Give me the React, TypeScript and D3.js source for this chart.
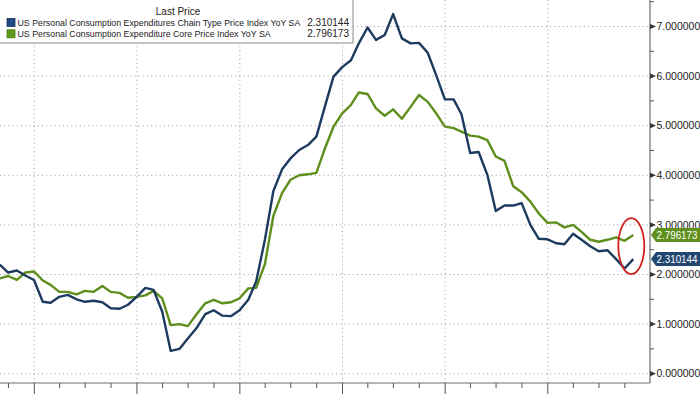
import React from "react";
import * as d3 from "d3";

// Monthly YoY %, Aug 2018 .. Oct 2024 (month-end)
const startYear = 2018;
const startMonth = 7; // August (0-based)

const headline: number[] = [
  2.20, 2.04, 2.08, 1.98, 1.89,
  1.45, 1.43, 1.55, 1.59, 1.50, 1.45, 1.47, 1.44, 1.32, 1.31, 1.39, 1.55,
  1.73, 1.69, 1.25, 0.46, 0.50, 0.71, 0.92, 1.20, 1.28, 1.17, 1.16, 1.28,
  1.49, 1.86, 2.70, 3.68, 4.12, 4.34, 4.51, 4.61, 4.78, 5.40, 5.99, 6.18,
  6.32, 6.66, 6.98, 6.73, 6.83, 7.25, 6.76, 6.66, 6.67, 6.47, 6.02, 5.53,
  5.53, 5.23, 4.45, 4.47, 4.01, 3.28, 3.39, 3.39, 3.44, 3.00, 2.72, 2.71,
  2.63, 2.61, 2.82, 2.70, 2.57, 2.47, 2.49, 2.31, 2.12, 2.310144,
];

const core: number[] = [
  1.92, 1.97, 1.89, 2.04, 2.06,
  1.88, 1.79, 1.65, 1.65, 1.60, 1.67, 1.65, 1.77, 1.65, 1.63, 1.53, 1.55,
  1.58, 1.67, 1.52, 0.98, 1.00, 0.96, 1.20, 1.42, 1.49, 1.42, 1.44, 1.52,
  1.72, 1.73, 2.21, 3.18, 3.64, 3.91, 4.00, 4.02, 4.05, 4.55, 4.98, 5.25,
  5.42, 5.67, 5.64, 5.35, 5.20, 5.33, 5.14, 5.38, 5.62, 5.48, 5.25, 4.98,
  4.95, 4.88, 4.80, 4.78, 4.71, 4.38, 4.29, 3.78, 3.66, 3.47, 3.23, 3.04,
  3.05, 2.95, 3.00, 2.86, 2.70, 2.66, 2.70, 2.75, 2.68, 2.796173,
];

const seriesNames = [
  "US Personal Consumption Expenditures Chain Type Price Index YoY SA",
  "US Personal Consumption Expenditure Core Price Index YoY SA",
];
const lastLabels = ["2.310144", "2.796173"];
const yTicks = [0, 1, 2, 3, 4, 5, 6, 7];
const yMinorTicks = [0.5, 1.5, 2.5, 3.5, 4.5, 5.5, 6.5, 7.5];
const yearTicks = [2019, 2020, 2021, 2022, 2023, 2024];

const BLUE = "#1d3a5f";
const GREEN = "#5e8e1c";
const BLUE_TAG = "#21466f";
const GREEN_TAG = "#5f901e";

const W = 700;
const H = 394;
const plotRight = 650;
const plotBottom = 383;

export default function App() {
  const x = d3
    .scaleUtc()
    .domain([new Date(Date.UTC(2019, 0, 1)), new Date(Date.UTC(2024, 0, 1))])
    .range([34.3, 547.8]);
  const y = d3.scaleLinear().domain([0, 7]).range([373.7, 26.5]);

  const dateAt = (i: number) =>
    new Date(Date.UTC(startYear, startMonth + i + 1, 0));

  const line = d3
    .line<number>()
    .x((_, i) => x(dateAt(i)))
    .y((d) => y(d));

  const quarterTicks = d3.utcMonth
    .every(3)!
    .range(new Date(Date.UTC(2018, 6, 1)), new Date(Date.UTC(2025, 0, 1)))
    .filter((d) => x(d) >= 0 && x(d) <= plotRight);

  const dotted = "1,3.2";
  const font = "'Liberation Sans', Arial, sans-serif";

  const lastH = headline[headline.length - 1];
  const lastC = core[core.length - 1];
  const lastX = x(dateAt(headline.length - 1));

  const tag = (v: number, fill: string, label: string) => {
    const cy = y(v);
    const h = 7;
    return (
      <g>
        <path
          d={`M651,${cy} L656,${cy - h} L700,${cy - h} L700,${cy + h} L656,${cy + h} Z`}
          fill={fill}
        />
        <text
          x={656.5}
          y={cy}
          dy="0.35em"
          fill="#fff"
          fontSize={10}
          fontFamily={font}
          textLength={41}
          lengthAdjust="spacingAndGlyphs"
        >
          {label}
        </text>
      </g>
    );
  };

  return (
    <svg
      width={W}
      height={H}
      style={{ position: "fixed", left: 0, top: 0, background: "#fff" }}
    >
      <rect x={0} y={0} width={W} height={H} fill="#fff" />

      {/* horizontal gridlines */}
      {yTicks.map((t) => (
        <line
          key={"hg" + t}
          x1={0}
          x2={plotRight}
          y1={y(t)}
          y2={y(t)}
          stroke="#9a9a9a"
          strokeWidth={1}
          strokeDasharray={dotted}
        />
      ))}
      {/* vertical gridlines */}
      {yearTicks.map((yr) => {
        const xx = x(new Date(Date.UTC(yr, 0, 1)));
        return (
          <line
            key={"vg" + yr}
            x1={xx}
            x2={xx}
            y1={0}
            y2={plotBottom}
            stroke="#9a9a9a"
            strokeWidth={1}
            strokeDasharray={dotted}
          />
        );
      })}

      {/* series */}
      <path d={line(core) || ""} fill="none" stroke={GREEN} strokeWidth={2.4} strokeLinejoin="round" />
      <path d={line(headline) || ""} fill="none" stroke={BLUE} strokeWidth={2.4} strokeLinejoin="round" />

      {/* axes frame */}
      <line x1={0} x2={plotRight} y1={plotBottom} y2={plotBottom} stroke="#6e6e6e" strokeWidth={1.2} />
      <line x1={plotRight} x2={plotRight} y1={0} y2={plotBottom} stroke="#6e6e6e" strokeWidth={1.2} />

      {/* bottom ticks */}
      {quarterTicks.map((d, i) => {
        const xx = x(d);
        const major = d.getUTCMonth() === 0;
        return (
          <line
            key={"bt" + i}
            x1={xx}
            x2={xx}
            y1={plotBottom}
            y2={major ? H : plotBottom + 5}
            stroke="#555"
            strokeWidth={1}
          />
        );
      })}

      {/* right axis ticks */}
      {yMinorTicks.map((t) => (
        <line
          key={"ym" + t}
          x1={plotRight}
          x2={plotRight + 4}
          y1={y(t)}
          y2={y(t)}
          stroke="#555"
          strokeWidth={1}
        />
      ))}
      {yTicks.map((t) => (
        <g key={"yt" + t}>
          <path
            d={`M${plotRight},${y(t) - 2.6} L${plotRight + 6},${y(t)} L${plotRight},${y(t) + 2.6} Z`}
            fill="#333"
          />
          <text
            x={plotRight + 6.5}
            y={y(t)}
            dy="0.35em"
            fontSize={10.5}
            fontFamily={font}
            fill="#222"
          >
            {t.toFixed(6)}
          </text>
        </g>
      ))}

      {/* last value tags */}
      {tag(lastC, GREEN_TAG, lastLabels[1])}
      {tag(lastH, BLUE_TAG, lastLabels[0])}

      {/* highlight ellipse */}
      <ellipse
        cx={lastX - 2}
        cy={(y(lastC) + y(lastH)) / 2 - 1}
        rx={13}
        ry={28}
        fill="none"
        stroke="#d11f1f"
        strokeWidth={1.8}
      />

      {/* legend */}
      <rect x={-1} y={-1} width={354} height={44} fill="#fff" stroke="#8a8a8a" strokeWidth={1} />
      <text x={178} y={15} textAnchor="middle" fontSize={10} fontFamily={font} fill="#222">
        Last Price
      </text>
      {[0, 1].map((i) => {
        const cy = 22.5 + i * 11.3;
        return (
          <g key={"lg" + i}>
            <rect
              x={7}
              y={cy - 4}
              width={8}
              height={8}
              fill={i === 0 ? "#1f4c86" : "#5f9a1a"}
              stroke={i === 0 ? "#15305a" : "#4a7a12"}
              strokeWidth={0.8}
            />
            <text
              x={17.5}
              y={cy}
              dy="0.35em"
              fontSize={8.8}
              fontFamily={font}
              fill="#222"
            >
              {seriesNames[i]}
            </text>
            <text
              x={349}
              y={cy}
              dy="0.35em"
              textAnchor="end"
              fontSize={10}
              fontFamily={font}
              fill="#222"
            >
              {lastLabels[i]}
            </text>
          </g>
        );
      })}
    </svg>
  );
}
